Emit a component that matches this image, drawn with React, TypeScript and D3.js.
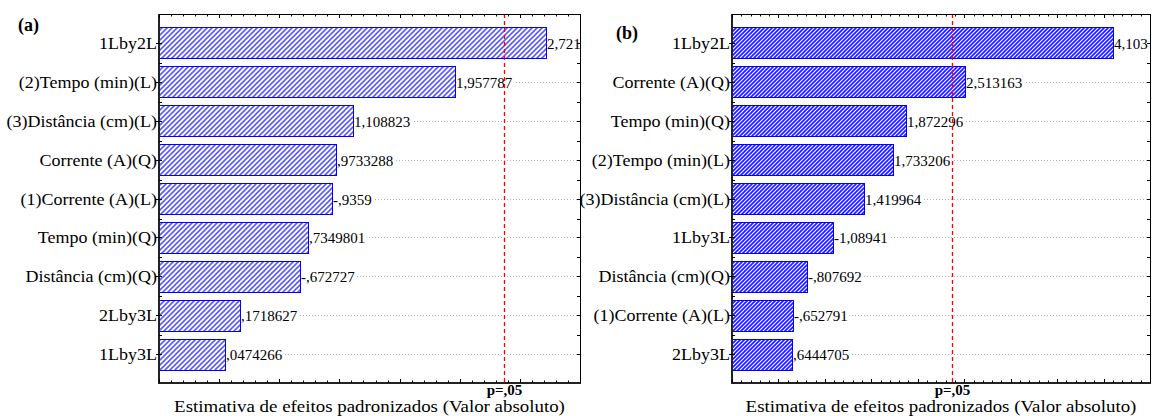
import React from "react";
import * as d3 from "d3";

// ---------- data ----------
const categoriesA = [
  "1Lby2L",
  "(2)Tempo (min)(L)",
  "(3)Distância (cm)(L)",
  "Corrente (A)(Q)",
  "(1)Corrente (A)(L)",
  "Tempo (min)(Q)",
  "Distância (cm)(Q)",
  "2Lby3L",
  "1Lby3L",
];
const valuesA = [2.721, 1.957787, 1.108823, 0.9733288, 0.9359, 0.7349801, 0.672727, 0.1718627, 0.0474266];
const valueLabelsA = ["2,721", "1,957787", "1,108823", ",9733288", "-,9359", ",7349801", "-,672727", ",1718627", ",0474266"];

const categoriesB = [
  "1Lby2L",
  "Corrente (A)(Q)",
  "Tempo (min)(Q)",
  "(2)Tempo (min)(L)",
  "(3)Distância (cm)(L)",
  "1Lby3L",
  "Distância (cm)(Q)",
  "(1)Corrente (A)(L)",
  "2Lby3L",
];
const valuesB = [4.103, 2.513163, 1.872296, 1.733206, 1.419964, 1.08941, 0.807692, 0.652791, 0.6444705];
const valueLabelsB = ["4,103", "2,513163", "1,872296", "1,733206", "1,419964", "-1,08941", "-,807692", "-,652791", ",6444705"];

const domainA: [number, number] = [-0.5, 3.0];
const domainB: [number, number] = [0, 4.5];
const pCritical = 2.365;
const pLabel = "p=,05";
const xTitle = "Estimativa de efeitos padronizados (Valor absoluto)";

const FONT = "Liberation Serif, Times New Roman, serif";

function textWidth(s: string, size: number) {
  let w = 0;
  for (const c of s) {
    if (c === ",") w += 0.25;
    else if (c === "-") w += 0.333;
    else w += 0.5;
  }
  return w * size;
}

type PanelProps = {
  x0: number;
  x1: number;
  domain: [number, number];
  categories: string[];
  values: number[];
  labels: string[];
  patternId: string;
  tag: string;
  tagX: number;
  tagY: number;
};

const TOP = 14;
const BOTTOM = 383;

function Panel(p: PanelProps) {
  const x = d3.scaleLinear().domain(p.domain).range([p.x0, p.x1]);
  const y = d3
    .scaleBand<string>()
    .domain(p.categories)
    .range([TOP, BOTTOM])
    .paddingInner(0.19)
    .paddingOuter(0.326);
  const bw = y.bandwidth();
  const step = y.step();
  const centers = p.categories.map((c) => Math.round((y(c) as number) + bw / 2) + 0.5);
  const mids = centers.slice(0, -1).map((c) => Math.round(c + step / 2) + 0.5);
  const tickVals = d3
    .range(Math.round(p.domain[0] * 10), Math.round(p.domain[1] * 10) + 1)
    .map((i) => ({ v: i / 10, major: i % 5 === 0 }));
  const valFont = 15;
  const xPc = Math.round(x(pCritical)) + 0.5;
  return (
    <g>
      {/* gridlines */}
      {centers.map((cy, i) => (
        <line key={"g" + i} x1={p.x0} x2={p.x1} y1={cy} y2={cy} stroke="#b0b0b0" strokeWidth={1} strokeDasharray="1,2" />
      ))}
      {/* bars */}
      {p.categories.map((c, i) => (
        <rect
          key={"b" + i}
          x={p.x0 + 0.5}
          y={Math.round(y(c) as number) + 0.5}
          width={Math.round(x(p.values[i]) - p.x0)}
          height={Math.round(bw) - 1}
          fill={`url(#${p.patternId})`}
          stroke="#0000ff"
          strokeWidth={1}
        />
      ))}
      {/* value labels */}
      {p.categories.map((c, i) => {
        const bx = Math.round(x(p.values[i])) + 1;
        const cy = centers[i];
        const w = textWidth(p.labels[i], valFont);
        return (
          <g key={"v" + i}>
            <rect x={bx + 0.5} y={cy - 8} width={w + 1} height={15} fill="white" />
            <text x={bx} y={cy + 5} fontFamily={FONT} fontSize={valFont} fill="#000">
              {p.labels[i]}
            </text>
          </g>
        );
      })}
      {/* p line */}
      <line x1={xPc} x2={xPc} y1={TOP} y2={BOTTOM} stroke="#ff0000" strokeWidth={1.3} strokeDasharray="4,3" />
      {/* frame */}
      <line x1={p.x0} x2={p.x1} y1={TOP + 0.5} y2={TOP + 0.5} stroke="#000" strokeWidth={1} />
      <line x1={p.x1 + 0.5} x2={p.x1 + 0.5} y1={TOP} y2={BOTTOM} stroke="#000" strokeWidth={1} />
      <line x1={p.x0} x2={p.x1 + 1} y1={BOTTOM} y2={BOTTOM} stroke="#222" strokeWidth={2} />
      <line x1={p.x0} x2={p.x0} y1={TOP} y2={BOTTOM + 1} stroke="#222" strokeWidth={2} />
      {/* x ticks */}
      {tickVals.map((t, i) => {
        const tx = Math.round(x(t.v)) + 0.5;
        const len = t.major ? 4 : 2.5;
        return (
          <g key={"t" + i}>
            <line x1={tx} x2={tx} y1={BOTTOM} y2={BOTTOM - len} stroke="#000" strokeWidth={1} />
            <line x1={tx} x2={tx} y1={TOP} y2={TOP + len} stroke="#000" strokeWidth={1} />
          </g>
        );
      })}
      {/* y ticks */}
      {centers.map((cy, i) => (
        <g key={"yc" + i}>
          <line x1={p.x0 - 3} x2={p.x0 + 3} y1={cy} y2={cy} stroke="#000" strokeWidth={1} />
          <line x1={p.x1} x2={p.x1 - 3} y1={cy} y2={cy} stroke="#000" strokeWidth={1} />
        </g>
      ))}
      {mids.map((cy, i) => (
        <g key={"ym" + i}>
          <line x1={p.x0} x2={p.x0 + 3} y1={cy} y2={cy} stroke="#000" strokeWidth={1} />
          <line x1={p.x1} x2={p.x1 - 3} y1={cy} y2={cy} stroke="#000" strokeWidth={1} />
        </g>
      ))}
      {/* category labels */}
      {p.categories.map((c, i) => (
        <text
          key={"c" + i}
          transform={`translate(${p.x0 - 2},${centers[i] + 5}) scale(1.06,1)`}
          textAnchor="end"
          fontFamily={FONT}
          fontSize={17}
          fill="#000"
        >
          {c}
        </text>
      ))}
      {/* p label */}
      <text x={xPc} y={395} textAnchor="middle" fontFamily={FONT} fontSize={15} fontWeight="bold" fill="#000">
        {pLabel}
      </text>
      {/* axis title */}
      <text
        transform={`translate(${(p.x0 + p.x1) / 2},411.5) scale(1.08,1)`}
        textAnchor="middle"
        fontFamily={FONT}
        fontSize={17.5}
        fill="#000"
      >
        {xTitle}
      </text>
      {/* tag */}
      <text x={p.tagX} y={p.tagY} fontFamily={FONT} fontSize={18} fontWeight="bold" fill="#000">
        {p.tag}
      </text>
    </g>
  );
}

export default function App() {
  return (
    <svg
      width={1152}
      height={416}
      style={{ position: "absolute", left: 0, top: 0, background: "#fff" }}
      xmlns="http://www.w3.org/2000/svg"
    >
      <defs>
        <pattern id="hatchA" patternUnits="userSpaceOnUse" width={5} height={5}>
          <rect width={5} height={5} fill="#ffffff" />
          <path d="M-1,1 l2,-2 M0,5 l5,-5 M4,6 l2,-2" stroke="#5a5aff" strokeWidth={1.6} />
        </pattern>
        <pattern id="hatchB" patternUnits="userSpaceOnUse" width={4} height={4}>
          <rect width={4} height={4} fill="#ffffff" />
          <path d="M-1,1 l2,-2 M0,4 l4,-4 M3,5 l2,-2" stroke="#1a1aff" strokeWidth={1.7} />
        </pattern>
      </defs>
      <rect width={1152} height={416} fill="#fff" />
      <Panel
        x0={159}
        x1={580}
        domain={domainA}
        categories={categoriesA}
        values={valuesA}
        labels={valueLabelsA}
        patternId="hatchA"
        tag="(a)"
        tagX={18}
        tagY={31}
      />
      <Panel
        x0={732}
        x1={1150}
        domain={domainB}
        categories={categoriesB}
        values={valuesB}
        labels={valueLabelsB}
        patternId="hatchB"
        tag="(b)"
        tagX={616}
        tagY={39}
      />
    </svg>
  );
}
